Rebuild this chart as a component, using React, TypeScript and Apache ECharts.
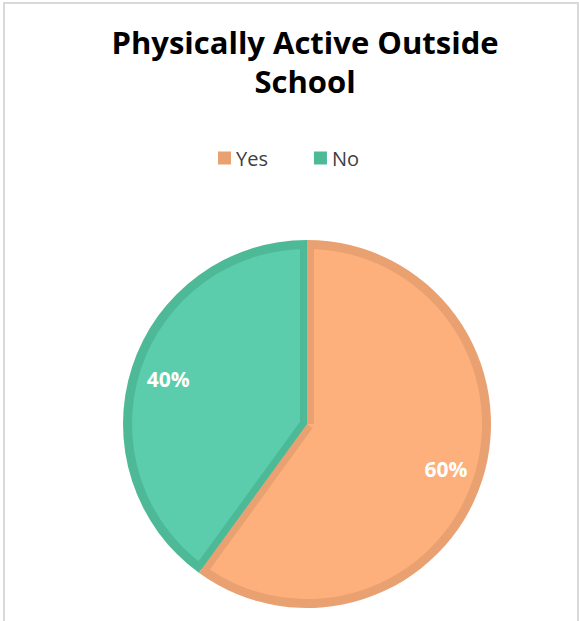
import React, { useEffect, useRef } from "react";
import * as echarts from "echarts";

const TITLE = "Physically Active Outside\nSchool";
const categories = ["Yes", "No"];
const values = [60, 40];
const lightColors = ["#FDB07B", "#5BCDAC"];
const darkColors = ["#E9A172", "#4EB996"];

const CX = 307;
const CY = 424;
const R = 184;
const BAND = 9;
const STRIP = 7;

export default function App() {
  const ref = useRef<HTMLDivElement>(null);
  useEffect(() => {
    if (!ref.current) return;
    const chart = echarts.init(ref.current, null, { renderer: "svg" });
    const total = values.reduce((a, b) => a + b, 0);
    const cum: number[] = [0];
    values.forEach((v, i) => cum.push(cum[i] + v));

    const renderItem = (params: any, api: any) => {
      const i = params.dataIndex;
      const a0 = ((90 - (360 * cum[i]) / total) * Math.PI) / 180;
      const a1 = ((90 - (360 * cum[i + 1]) / total) * Math.PI) / 180;
      const L = R - BAND / 2;
      const strip = (a: number, sign: number) => {
        const ux = Math.cos(a);
        const uy = -Math.sin(a);
        const nx = sign * -uy;
        const ny = sign * ux;
        return {
          type: "polygon",
          z2: 10,
          shape: {
            points: [
              [CX, CY],
              [CX + L * ux, CY + L * uy],
              [CX + L * ux + STRIP * nx, CY + L * uy + STRIP * ny],
              [CX + STRIP * nx, CY + STRIP * ny],
            ],
          },
          style: { fill: darkColors[i], stroke: "none" },
        };
      };
      return {
        type: "group",
        children: [strip(a0, 1), strip(a1, -1)],
      };
    };

    chart.setOption({
      animation: false,
      backgroundColor: "#ffffff",
      title: {
        text: TITLE,
        left: 300,
        top: 17,
        textAlign: "center",
        textStyle: {
          fontFamily: "Open Sans",
          fontWeight: "bold",
          fontSize: 31,
          lineHeight: 39,
          color: "#000000",
        },
      },
      legend: {
        left: 213,
        top: 143,
        icon: "rect",
        itemWidth: 13,
        itemHeight: 13,
        itemGap: 46,
        data: categories,
        textStyle: {
          fontFamily: "Open Sans",
          fontSize: 20,
          color: "#404040",
          padding: [0, 0, 0, 0],
        },
      },
      graphic: [
        {
          type: "rect",
          shape: { x: 4, y: 3, width: 574, height: 640 },
          style: { fill: "none", stroke: "#D9D9D9", lineWidth: 2 },
          silent: true,
          z: 0,
        },
      ],
      series: [
        {
          type: "pie",
          name: "dark",
          center: [CX, CY],
          radius: R,
          startAngle: 90,
          clockwise: true,
          silent: true,
          label: { show: false },
          labelLine: { show: false },
          data: categories.map((c, i) => ({
            name: c,
            value: values[i],
            itemStyle: { color: darkColors[i] },
          })),
        },
        {
          type: "pie",
          name: "light",
          center: [CX, CY],
          radius: R - BAND,
          startAngle: 90,
          clockwise: true,
          silent: true,
          label: { show: false },
          labelLine: { show: false },
          data: categories.map((c, i) => ({
            name: c,
            value: values[i],
            itemStyle: { color: lightColors[i] },
          })),
        },
        {
          type: "custom",
          name: "strips",
          coordinateSystem: "none",
          silent: true,
          z: 4,
          renderItem,
          data: values.map((v, i) => [i, v]),
        },
        {
          type: "pie",
          name: "labels",
          center: [CX, CY],
          radius: [102, R],
          startAngle: 90,
          clockwise: true,
          silent: true,
          z: 5,
          itemStyle: { color: "transparent" },
          label: {
            show: true,
            position: "inside",
            formatter: "{d}%",
            color: "#ffffff",
            fontFamily: "Open Sans",
            fontWeight: "bold",
            fontSize: 21,
          },
          labelLine: { show: false },
          data: categories.map((c, i) => ({
            name: c,
            value: values[i],
            itemStyle: { color: "transparent" },
          })),
        },
      ],
    });
    return () => chart.dispose();
  }, []);
  return (
    <div
      ref={ref}
      style={{ position: "fixed", left: 0, top: 0, width: 579, height: 621 }}
    />
  );
}
